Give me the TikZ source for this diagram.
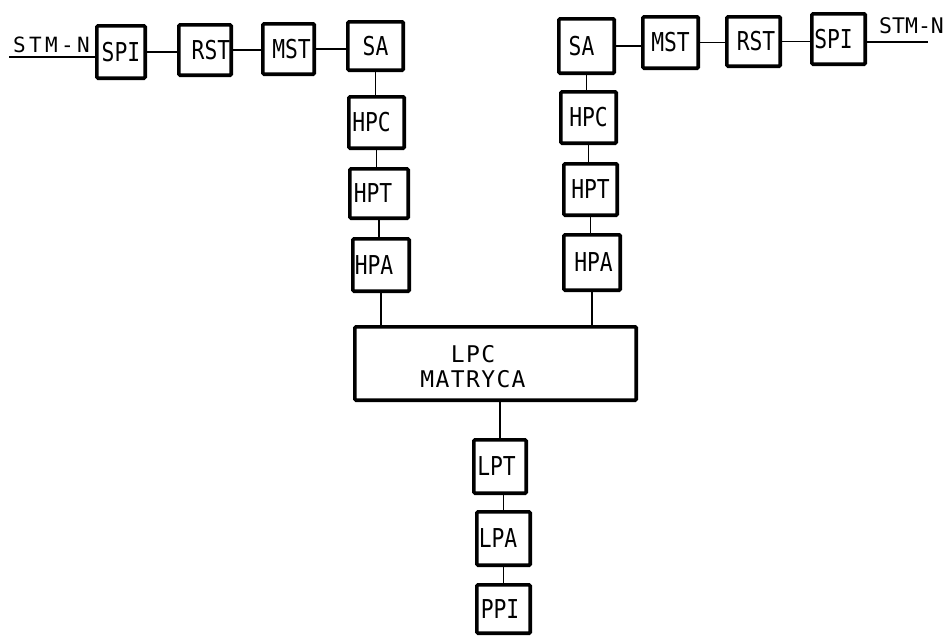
\documentclass[tikz,border=0pt]{standalone}
\usepackage{fontspec}
\newfontfamily\lett[FakeStretch=0.82]{DejaVu Sans Mono}
\newfontfamily\lettw[LetterSpace=6]{DejaVu Sans Mono}
\newfontfamily\stmr{DejaVu Sans Mono}
\newfontfamily\stml[LetterSpace=16]{DejaVu Sans Mono}
\newcommand\bx[7][]{%
  \node[box,#1,minimum width={(#5)-(#3)-3.6},minimum height={(#6)-(#4)-3.6}]
    (#2) at ({((#3)+(#5))/2},{((#4)+(#6))/2}) {#7};}
\begin{document}
\begin{tikzpicture}[x=1pt,y=-1pt,
  box/.style={draw,line width=3.6pt,rounded corners=1.2pt,inner sep=0pt,
    font=\lett\fontsize{26}{28}\selectfont},
  conn/.style={line width=1.9pt},
  stm/.style={inner sep=0pt,anchor=base west}]
\useasboundingbox[fill=white] (0,0) rectangle (944,637);
% left chain
\bx{lspi}{95}{24}{147}{80}{SPI}
\bx{lrst}{177}{23}{233}{77}{\kern12pt RST}
\bx{lmst}{261}{22}{316}{76}{\kern6pt MST}
\bx{lsa}{346}{20}{405}{72}{SA}
\bx{lhpc}{347}{95}{406}{150}{HPC\kern10pt}
\bx{lhpt}{348}{167}{410}{220}{HPT\kern12pt}
\bx{lhpa}{351}{237}{411}{293}{HPA\kern14pt}
% right chain
\bx{rsa}{557}{17}{616}{75}{SA\kern10pt}
\bx{rmst}{641}{15}{700}{70}{MST}
\bx{rrst}{725}{15}{782}{68}{\kern5pt RST}
\bx{rspi}{810}{12}{867}{66}{SPI\kern10pt}
\bx{rhpc}{559}{90}{618}{145}{HPC}
\bx{rhpt}{562}{162}{619}{217}{HPT}
\bx{rhpa}{562}{233}{622}{292}{\kern3pt HPA}
% matrix
\bx{lpc}{353}{325}{638}{402}{}
\node[inner sep=0pt,align=center,font=\lettw\fontsize{23}{25}\selectfont] (lpctxt) at (473,367) {LPC\\MATRYCA};
\bx{lpt}{472}{438}{528}{495}{LPT\kern7pt}
\bx{lpa}{475}{510}{532}{567}{LPA\kern11pt}
\bx{ppi}{475}{583}{532}{635}{PPI\kern7pt}
% STM-N
\node[stm,font=\stml\fontsize{21}{23}\selectfont] (stmltxt) at (13,52) {STM-N};
\node[stm,font=\stmr\fontsize{21.5}{23}\selectfont] (stmrtxt) at (879,33) {STM-N};
\coordinate (lend) at (9,57);
\coordinate (rend) at (928,42);
\draw[conn,line width=2.4pt] (lend) -- (lend -| lspi.west);
\draw[conn,line width=2.4pt] (rspi.east |- rend) -- (rend);
% horizontal connectors
\foreach \a/\b in {lspi/lrst,lrst/lmst,lmst/lsa,rsa/rmst,rmst/rrst,rrst/rspi}
  \draw[conn] (\a.east) -- (\a.east -| \b.west);
% vertical connectors
\foreach \a/\b in {lsa/lhpc,lhpc/lhpt,lhpt/lhpa,lhpa/lpc,rsa/rhpc,rhpc/rhpt,rhpt/rhpa,rhpa/lpc}
  \draw[conn] (\a.south) -- (\a.south |- \b.north);
\foreach \a/\b in {lpt/lpc,lpa/lpt,ppi/lpa}
  \draw[conn] (\a.north) -- (\a.north |- \b.south);
\end{tikzpicture}
\end{document}
